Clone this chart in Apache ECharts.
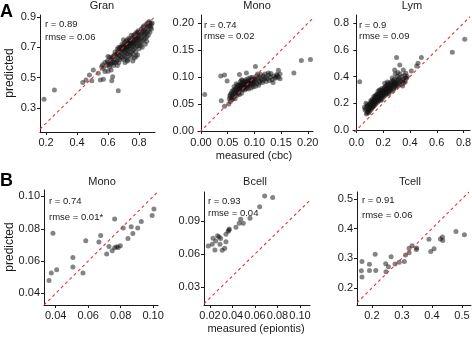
<!DOCTYPE html>
<html>
<head>
<meta charset="utf-8">
<script src="https://cdn.jsdelivr.net/npm/echarts@6/dist/echarts.min.js"></script>
<style>
html, body { margin: 0; padding: 0; background: #fff; }
#main { width: 472px; height: 337px; }
</style>
</head>
<body>
<div id="main"></div>
<script>
// ---- data ----
var panelTitles = ['Gran', 'Mono', 'Lym', 'Mono', 'Bcell', 'Tcell'];
var rValues = ['0.89', '0.74', '0.9', '0.74', '0.93', '0.91'];
var rmseValues = ['0.06', '0.02', '0.09', '0.01*', '0.04', '0.06'];

var xTicks = [[0.2, 0.4, 0.6, 0.8], [0, 0.05, 0.1, 0.15, 0.2], [0, 0.2, 0.4, 0.6, 0.8],
              [0.04, 0.06, 0.08, 0.1], [0.02, 0.04, 0.06, 0.08, 0.1], [0.2, 0.3, 0.4, 0.5]];
var yTicks = [[0.3, 0.5, 0.7, 0.9], [0, 0.05, 0.1, 0.15, 0.2], [0, 0.2, 0.4, 0.6, 0.8],
              [0.04, 0.06, 0.08, 0.1], [0.03, 0.06, 0.09], [0.2, 0.3, 0.4, 0.5]];
var tickDecimals = [1, 2, 1, 2, 2, 1];
var xRange = [[0.161, 0.903], [-0.0056, 0.2098], [-0.025, 0.848],
              [0.0328, 0.103], [0.0147, 0.1089], [0.1505, 0.53]];
var yRange = [[0.142, 0.913], [-0.0019, 0.2156], [-0.015, 0.861],
              [0.0328, 0.104], [0.0136, 0.1164], [0.1428, 0.5233]];

var granPts = [
  [0.187,0.357],[0.254,0.419],[0.666,0.414],[0.437,0.469],[0.458,0.485],[0.495,0.48],[0.48,0.518],[0.505,0.55],
  [0.55,0.485],[0.57,0.49],[0.537,0.529],[0.624,0.48],[0.63,0.506],[0.58,0.54],[0.6,0.543],[0.559,0.572],
  [0.57,0.56],[0.59,0.58],[0.6,0.6],[0.61,0.57],[0.62,0.62],[0.58,0.6],[0.605,0.585],[0.615,0.6],[0.595,0.61],
  [0.62,0.55],[0.565,0.585],[0.61,0.635],[0.6,0.64],[0.62,0.59],
  [0.63,0.6],[0.64,0.62],[0.65,0.64],[0.66,0.66],[0.67,0.65],[0.68,0.67],[0.64,0.65],[0.655,0.61],[0.665,0.63],
  [0.675,0.62],[0.63,0.64],[0.645,0.67],[0.66,0.69],[0.67,0.7],[0.68,0.64],[0.635,0.58],[0.65,0.6],[0.665,0.675],
  [0.675,0.69],[0.64,0.6],[0.68,0.7],[0.655,0.655],[0.625,0.63],[0.67,0.6],[0.66,0.58],
  [0.69,0.68],[0.7,0.7],[0.71,0.69],[0.72,0.72],[0.73,0.7],[0.74,0.73],[0.69,0.66],[0.7,0.65],[0.71,0.67],
  [0.72,0.68],[0.73,0.66],[0.74,0.69],[0.695,0.71],[0.705,0.73],[0.715,0.74],[0.725,0.75],[0.735,0.76],
  [0.69,0.63],[0.7,0.62],[0.71,0.64],[0.72,0.63],[0.73,0.62],[0.74,0.65],[0.685,0.7],[0.7,0.68],[0.71,0.71],
  [0.72,0.7],[0.73,0.73],[0.74,0.71],[0.705,0.69],[0.715,0.705],[0.725,0.715],[0.735,0.725],[0.695,0.69],
  [0.72,0.66],[0.73,0.68],[0.74,0.75],[0.71,0.6],[0.725,0.61],[0.7,0.75],[0.69,0.72],
  [0.75,0.72],[0.76,0.74],[0.77,0.75],[0.78,0.76],[0.79,0.77],[0.8,0.78],[0.75,0.7],[0.76,0.71],[0.77,0.72],
  [0.78,0.73],[0.79,0.74],[0.8,0.75],[0.75,0.67],[0.76,0.68],[0.77,0.69],[0.78,0.7],[0.79,0.71],[0.8,0.72],
  [0.755,0.76],[0.765,0.78],[0.775,0.79],[0.785,0.8],[0.795,0.81],[0.75,0.64],[0.77,0.63],[0.79,0.65],
  [0.76,0.61],[0.78,0.64],[0.745,0.74],[0.755,0.73],[0.765,0.725],[0.775,0.74],[0.785,0.755],[0.795,0.76],
  [0.8,0.8],[0.76,0.66],[0.78,0.67],[0.8,0.69],[0.77,0.77],[0.79,0.79],[0.75,0.78],
  [0.81,0.79],[0.82,0.8],[0.83,0.81],[0.84,0.82],[0.85,0.83],[0.86,0.84],[0.81,0.76],[0.82,0.77],[0.83,0.78],
  [0.84,0.79],[0.85,0.8],[0.86,0.81],[0.81,0.73],[0.82,0.74],[0.83,0.75],[0.84,0.76],[0.85,0.77],
  [0.815,0.82],[0.825,0.83],[0.835,0.8],[0.845,0.85],[0.855,0.86],[0.82,0.7],[0.84,0.72],[0.86,0.78],
  [0.81,0.71],[0.83,0.84],[0.85,0.74],
  [0.87,0.86],[0.88,0.85],[0.865,0.87],[0.875,0.83],[0.88,0.82],[0.87,0.8],[0.885,0.86],[0.87,0.84]
];

var monoCbcPts = [
  [0.007,0.068],[0.037,0.102],[0.044,0.104],[0.049,0.093],[0.038,0.056],[0.044,0.046],[0.188,0.131],[0.205,0.133],
  [0.174,0.108],[0.102,0.12],[0.072,0.105],[0.085,0.108],[0.145,0.113],[0.148,0.106],[0.14,0.1],[0.143,0.103],
  [0.052,0.05],[0.055,0.055],[0.056,0.062],[0.058,0.058],[0.054,0.065],[0.057,0.07],[0.059,0.066],[0.06,0.061],
  [0.053,0.06],[0.058,0.074],[0.055,0.068],
  [0.061,0.064],[0.062,0.07],[0.063,0.075],[0.064,0.068],[0.065,0.072],[0.066,0.08],[0.067,0.066],[0.068,0.074],
  [0.069,0.078],[0.07,0.07],[0.062,0.082],[0.064,0.06],[0.066,0.088],[0.068,0.085],[0.07,0.082],[0.061,0.076],
  [0.065,0.078],
  [0.071,0.074],[0.072,0.08],[0.073,0.085],[0.074,0.078],[0.075,0.088],[0.076,0.082],[0.077,0.09],[0.078,0.076],
  [0.079,0.084],[0.08,0.087],[0.072,0.068],[0.074,0.092],[0.076,0.07],[0.078,0.094],[0.08,0.08],[0.071,0.086],
  [0.073,0.079],[0.075,0.083],[0.077,0.085],[0.079,0.079],[0.076,0.095],[0.074,0.083],
  [0.081,0.082],[0.082,0.088],[0.083,0.091],[0.084,0.085],[0.085,0.079],[0.086,0.09],[0.087,0.093],[0.088,0.084],
  [0.089,0.088],[0.09,0.092],[0.082,0.076],[0.084,0.095],[0.086,0.081],[0.088,0.097],[0.09,0.086],[0.083,0.086],
  [0.085,0.089],[0.087,0.087],[0.089,0.078],[0.081,0.092],
  [0.091,0.089],[0.092,0.094],[0.093,0.085],[0.094,0.09],[0.095,0.096],[0.096,0.088],[0.097,0.092],[0.098,0.082],
  [0.099,0.095],[0.1,0.09],[0.092,0.099],[0.094,0.08],[0.096,0.1],[0.098,0.087],[0.1,0.097],
  [0.101,0.092],[0.103,0.095],[0.105,0.088],[0.107,0.098],[0.109,0.093],[0.111,0.1],[0.113,0.096],[0.115,0.09],
  [0.117,0.102],[0.119,0.097],[0.104,0.102],[0.108,0.085],[0.112,0.105],[0.116,0.094],[0.102,0.083],[0.106,0.106],
  [0.11,0.09],
  [0.121,0.1],[0.124,0.097],[0.127,0.104],[0.13,0.1],[0.133,0.095],[0.136,0.102],[0.139,0.098],[0.142,0.105],
  [0.145,0.1],[0.148,0.097],[0.122,0.092],[0.126,0.108],[0.131,0.107],[0.135,0.09],[0.12,0.106],[0.128,0.094]
];

var lymPts = [
  [0.025,0.362],[0.716,0.582],[0.809,0.679],[0.3,0.542],[0.485,0.542],[0.46,0.5],[0.45,0.48],[0.41,0.442],
  [0.369,0.425],[0.324,0.487],[0.35,0.45],[0.286,0.45],[0.29,0.42],[0.31,0.43],
  [0.075,0.12],[0.08,0.13],[0.085,0.14],[0.07,0.16],[0.078,0.175],[0.09,0.15],[0.095,0.16],[0.1,0.17],
  [0.088,0.18],[0.1,0.14],[0.065,0.15],[0.092,0.13],[0.082,0.19],[0.097,0.19],[0.072,0.2],[0.06,0.17],
  [0.105,0.16],[0.11,0.18],[0.115,0.19],[0.12,0.2],[0.125,0.21],[0.13,0.22],[0.135,0.2],[0.14,0.23],[0.145,0.21],
  [0.15,0.24],[0.105,0.2],[0.11,0.21],[0.115,0.17],[0.12,0.23],[0.125,0.18],[0.13,0.25],[0.135,0.24],[0.14,0.19],
  [0.145,0.26],[0.15,0.22],[0.108,0.22],[0.118,0.215],[0.128,0.195],[0.138,0.215],[0.148,0.2],[0.112,0.155],
  [0.122,0.17],[0.132,0.18],[0.142,0.25],[0.102,0.185],
  [0.155,0.23],[0.16,0.25],[0.165,0.26],[0.17,0.24],[0.175,0.27],[0.18,0.26],[0.185,0.28],[0.19,0.27],[0.195,0.29],
  [0.2,0.28],[0.155,0.27],[0.16,0.21],[0.165,0.22],[0.17,0.28],[0.175,0.23],[0.18,0.3],[0.185,0.24],[0.19,0.31],
  [0.195,0.25],[0.2,0.3],[0.158,0.245],[0.168,0.255],[0.178,0.25],[0.188,0.26],[0.198,0.27],[0.162,0.29],
  [0.172,0.3],[0.182,0.22],[0.192,0.23],[0.152,0.26],
  [0.205,0.29],[0.21,0.27],[0.215,0.3],[0.22,0.29],[0.225,0.31],[0.23,0.3],[0.235,0.32],[0.24,0.31],[0.245,0.33],
  [0.25,0.32],[0.205,0.25],[0.21,0.32],[0.215,0.26],[0.22,0.33],[0.225,0.27],[0.23,0.34],[0.235,0.28],[0.24,0.35],
  [0.245,0.29],[0.25,0.3],[0.208,0.31],[0.218,0.28],[0.228,0.32],[0.238,0.3],[0.248,0.34],[0.212,0.35],
  [0.232,0.36],[0.242,0.27],
  [0.255,0.31],[0.26,0.33],[0.265,0.32],[0.27,0.34],[0.275,0.33],[0.28,0.35],[0.285,0.34],[0.29,0.36],[0.295,0.35],
  [0.3,0.34],[0.26,0.29],[0.27,0.37],[0.28,0.31],[0.29,0.33],[0.3,0.37],[0.265,0.35],[0.275,0.3],[0.285,0.38],
  [0.295,0.32],[0.258,0.36],[0.268,0.39],[0.278,0.36],
  [0.31,0.36],[0.32,0.35],[0.33,0.37],[0.34,0.36],[0.35,0.38],[0.36,0.37],[0.37,0.39],[0.31,0.33],[0.32,0.39],
  [0.33,0.34],[0.34,0.4],[0.35,0.35],[0.36,0.41],[0.305,0.4],[0.325,0.42],[0.345,0.33],[0.365,0.36],[0.373,0.388],
  [0.38,0.4],[0.315,0.38]
];

var monoEpiPts = [
  [0.0359,0.048],[0.0373,0.0526],[0.0406,0.0546],[0.0383,0.0773],[0.0506,0.0622],[0.0506,0.0563],[0.0568,0.0526],
  [0.0585,0.0726],[0.0666,0.0718],[0.0677,0.0759],[0.0714,0.0643],[0.0728,0.069],[0.0748,0.0664],[0.0763,0.086],
  [0.0763,0.0682],[0.0775,0.0688],[0.0785,0.0684],[0.0798,0.0695],[0.0816,0.0804],[0.0845,0.074],[0.0865,0.0812],
  [0.0875,0.0771],[0.0905,0.0804],[0.0927,0.0845],[0.0994,0.0882],[0.1005,0.0922]
];

var bcellPts = [
  [0.0686,0.1127],[0.0757,0.1115],[0.0642,0.103],[0.0556,0.0925],[0.0473,0.0915],[0.046,0.088],[0.0496,0.088],
  [0.0431,0.0843],[0.0372,0.0827],[0.0368,0.0815],[0.0362,0.0808],[0.0342,0.078],[0.0342,0.0712],[0.0331,0.0652],
  [0.0309,0.0633],[0.0268,0.0767],[0.0281,0.0755],[0.0295,0.0742],[0.0251,0.0718],[0.022,0.0688],[0.0185,0.0673],
  [0.0227,0.0743],[0.0244,0.0636],[0.0289,0.0688]
];

var tcellPts = [
  [0.167,0.289],[0.165,0.258],[0.167,0.237],[0.192,0.28],[0.192,0.259],[0.211,0.314],[0.213,0.259],[0.246,0.282],
  [0.247,0.255],[0.255,0.272],[0.264,0.305],[0.277,0.281],[0.291,0.287],[0.308,0.289],[0.312,0.311],[0.324,0.319],
  [0.324,0.334],[0.334,0.342],[0.349,0.335],[0.348,0.33],[0.39,0.364],[0.396,0.323],[0.407,0.332],[0.428,0.365],
  [0.435,0.372],[0.436,0.36],[0.48,0.39],[0.508,0.379]
];

var panelData = [granPts, monoCbcPts, lymPts, monoEpiPts, bcellPts, tcellPts];

// ---- layout (pixels) ----
var grids = [
  { left: 40,  top: 15,  width: 115, height: 117 },
  { left: 198, top: 15,  width: 115, height: 117 },
  { left: 353, top: 15,  width: 117, height: 117 },
  { left: 44,  top: 190, width: 114, height: 115 },
  { left: 204, top: 192, width: 106, height: 113 },
  { left: 357, top: 192, width: 114, height: 113 }
];
var annoPos = [[45, 24, 37], [204, 25, 36], [359, 25, 36], [49, 201, 217], [208, 201, 213], [362, 200, 215]];
var titlePos = [[102, 6], [257, 6], [412, 6], [102, 182], [255, 182], [410, 182]];

var FONT = 'Liberation Sans, Arial, Helvetica, sans-serif';
var INK = '#1a1a1a';

var mychart = echarts.init(document.getElementById('main'));

var gridList = [], xAxes = [], yAxes = [], series = [], texts = [];

for (var i = 0; i < 6; i++) {
  (function (i) {
    var g = grids[i];
    gridList.push({ left: g.left, top: g.top, width: g.width, height: g.height, outerBoundsMode: 'none' });
    var dec = tickDecimals[i];
    var axisCommon = {
      type: 'value',
      gridIndex: i,
      axisLine: { show: true, lineStyle: { color: INK, width: 1 } },
      splitLine: { show: false },
      axisPointer: { show: false }
    };
    xAxes.push(Object.assign({}, axisCommon, {
      min: xRange[i][0], max: xRange[i][1],
      axisTick: { show: true, inside: false, length: 3, customValues: xTicks[i], lineStyle: { color: INK } },
      axisLabel: {
        customValues: xTicks[i], margin: 5, color: INK, fontSize: 11, fontFamily: FONT,
        formatter: function (v) { return v.toFixed(dec); }
      }
    }));
    yAxes.push(Object.assign({}, axisCommon, {
      min: yRange[i][0], max: yRange[i][1],
      axisTick: { show: true, inside: false, length: 3, customValues: yTicks[i], lineStyle: { color: INK } },
      axisLabel: {
        customValues: yTicks[i], margin: 4, color: INK, fontSize: 11, fontFamily: FONT,
        formatter: function (v) { return v.toFixed(dec); }
      }
    }));
    series.push({
      type: 'scatter',
      xAxisIndex: i, yAxisIndex: i,
      data: panelData[i],
      symbolSize: 5,
      itemStyle: { color: 'rgba(20,20,20,0.65)' },
      silent: true,
      z: 2
    });
    // y = x reference line across the shared range
    var lo = Math.max(xRange[i][0], yRange[i][0]);
    var hi = Math.min(xRange[i][1], yRange[i][1]);
    series.push({
      type: 'line',
      xAxisIndex: i, yAxisIndex: i,
      data: [[lo, lo], [hi, hi]],
      symbol: 'none',
      silent: true,
      lineStyle: { color: '#e2323a', width: 1.1, type: [3, 3] },
      z: 3
    });
    texts.push({
      type: 'text', x: titlePos[i][0], y: titlePos[i][1],
      style: { text: panelTitles[i], fill: INK, font: '11px ' + FONT, textAlign: 'center', textVerticalAlign: 'middle' }
    });
    texts.push({
      type: 'text', x: annoPos[i][0], y: annoPos[i][1],
      style: { text: 'r = ' + rValues[i], fill: INK, font: '9.5px ' + FONT, textAlign: 'left', textVerticalAlign: 'middle' }
    });
    texts.push({
      type: 'text', x: annoPos[i][0], y: annoPos[i][2],
      style: { text: 'rmse = ' + rmseValues[i], fill: INK, font: '9.5px ' + FONT, textAlign: 'left', textVerticalAlign: 'middle' }
    });
  })(i);
}

// panel letters and axis names
texts.push({ type: 'text', x: 0, y: 12, style: { text: 'A', fill: '#000', font: 'bold 18px ' + FONT, textVerticalAlign: 'middle' } });
texts.push({ type: 'text', x: 0, y: 181, style: { text: 'B', fill: '#000', font: 'bold 18px ' + FONT, textVerticalAlign: 'middle' } });
texts.push({ type: 'text', x: 10, y: 73, rotation: Math.PI / 2,
  style: { text: 'predicted', fill: INK, font: '12px ' + FONT, textAlign: 'center', textVerticalAlign: 'middle' } });
texts.push({ type: 'text', x: 10, y: 247, rotation: Math.PI / 2,
  style: { text: 'predicted', fill: INK, font: '12px ' + FONT, textAlign: 'center', textVerticalAlign: 'middle' } });
texts.push({ type: 'text', x: 254, y: 156,
  style: { text: 'measured (cbc)', fill: INK, font: '11px ' + FONT, textAlign: 'center', textVerticalAlign: 'middle' } });
texts.push({ type: 'text', x: 256, y: 329,
  style: { text: 'measured (epiontis)', fill: INK, font: '11px ' + FONT, textAlign: 'center', textVerticalAlign: 'middle' } });

var option = {
  animation: false,
  backgroundColor: '#fff',
  grid: gridList,
  xAxis: xAxes,
  yAxis: yAxes,
  series: series,
  graphic: texts
};
mychart.setOption(option);
</script>
</body>
</html>
